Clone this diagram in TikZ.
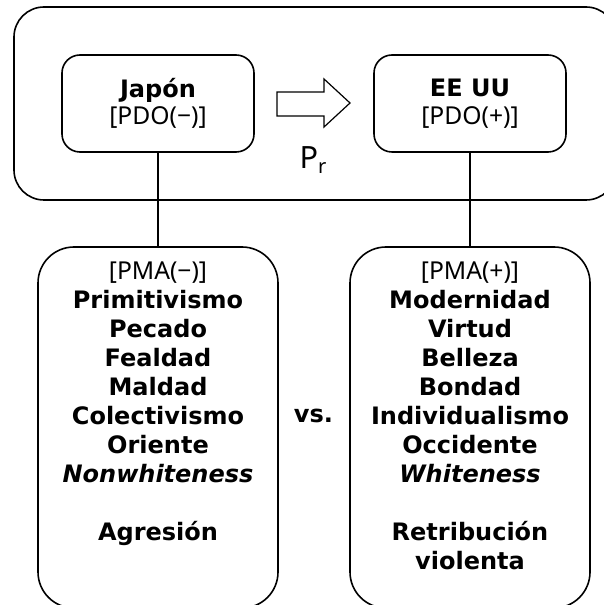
\documentclass[tikz,border=0pt]{standalone}
\usepackage{fontspec}
\setmainfont{DejaVu Sans}
\newfontfamily\notofont{Noto Sans}
\usepackage{tikz}
\usetikzlibrary{positioning}

\newcommand{\pdotexto}{\notofont\fontsize{18.5}{20}\selectfont}
\newcommand{\negrita}{\fontsize{18}{21.75}\selectfont\bfseries}

\tikzset{
  caja/.style={draw, line width=1.2pt, rounded corners=13.5pt, minimum width=144pt, minimum height=72.75pt, align=center, inner sep=0pt, font=\negrita},
  marco/.style={draw, line width=1.2pt, rounded corners=22.5pt, minimum width=451.5pt, minimum height=144.75pt, inner sep=0pt},
  lista/.style={draw, line width=1.2pt, rounded corners=27pt, minimum width=180pt, minimum height=270.75pt, inner sep=0pt},
  texto/.style={align=center, inner sep=0pt, font=\negrita}
}

\begin{document}
\begin{tikzpicture}[x=0.75pt,y=-0.75pt]
\useasboundingbox (0,0) rectangle (603,605);

\node[marco] (marco) at (315,103.5) {};									% marco superior
\node[caja] (japon) at (158,103.5) {Japón\\[-1pt]{\pdotexto [PDO(−)]}};		% caja Japon
\node[caja] (eeuu) at (470,103.5) {EE UU\\[-1pt]{\pdotexto [PDO(+)]}};		% caja EE UU

\draw[line width=0.9pt] (277,92) -- (324,92) -- (324,79) -- (350,103) -- (324,127) -- (324,116) -- (277,116) -- cycle;	% flecha
\node (pr) at (313,160) {\notofont\fontsize{23}{23}\selectfont P\raisebox{-4pt}{\fontsize{15}{15}\selectfont r}};	% P_r

\node[lista] (pmaneg) at (158,427.5) {};									% caja inferior izquierda
\node[lista] (pmapos) at (470,427.5) {};									% caja inferior derecha

\node[texto, anchor=north] (txtneg) at (158,262) {{\pdotexto [PMA(−)]}\\
  Primitivismo\\ Pecado\\ Fealdad\\ Maldad\\ Colectivismo\\ Oriente\\ \textit{Nonwhiteness}\\[21.75pt] Agresión};
\node[texto, anchor=north] (txtpos) at (470,262) {{\pdotexto [PMA(+)]}\\
  Modernidad\\ Virtud\\ Belleza\\ Bondad\\ Individualismo\\ Occidente\\ \textit{Whiteness}\\[21.75pt] Retribución\\ violenta};

\node[texto] (vs) at (313.5,416) {vs.};									% vs.

\draw[line width=1.2pt] (japon.south) -- (pmaneg.north);					% linea izquierda
\draw[line width=1.2pt] (eeuu.south) -- (pmapos.north);						% linea derecha

\end{tikzpicture}
\end{document}
